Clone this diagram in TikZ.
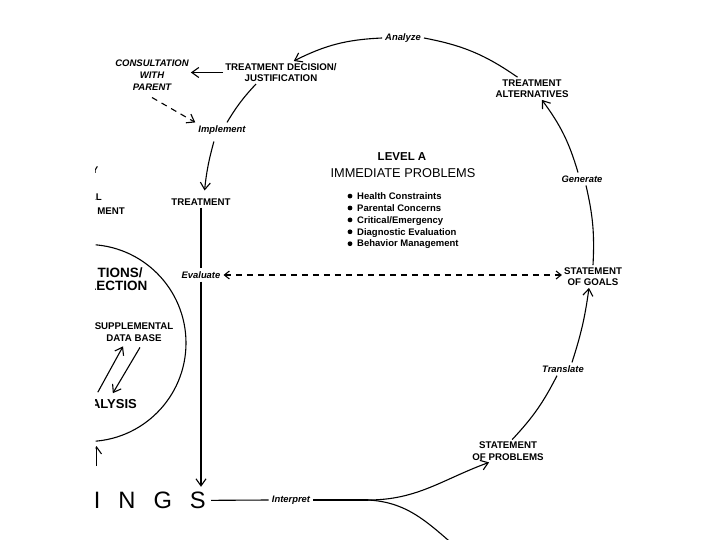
\documentclass[tikz,border=0pt]{standalone}
\usepackage{fontspec}
\setmainfont{Liberation Sans}
\usetikzlibrary{arrows.meta}

\begin{document}
\begin{tikzpicture}[x=1pt,y=1pt,
  stage/.style={font=\fontsize{9.7}{11.5}\selectfont\bfseries,align=center,inner sep=2pt},
  act/.style={font=\fontsize{9.4}{11}\selectfont\bfseries\itshape,inner sep=3pt},
  heading/.style={font=\fontsize{13.5}{16}\selectfont,inner sep=1pt},
  issue/.style={font=\fontsize{9.5}{11}\selectfont\bfseries,inner sep=0pt},
  flow/.style={line width=1.1pt},
  barbed/.style={-{Straight Barb[length=7pt,width=10pt]}},
  linkdash/.style={dash pattern=on 6pt off 5pt}]
\useasboundingbox (0,0) rectangle (720,-540);
\begin{scope}
\clip (95.5,0) rectangle (720,-540);

% cut-off circle at the left
\draw[flow] (87.5,-343) circle (98.5);
\draw[flow,barbed] (96.5,-466) -- (96.5,-446);

\node[stage,anchor=east] (frY) at (100.5,-170) {Y};
\node[stage,anchor=east] (frAL) at (104,-197) {AL};
\node[stage,anchor=east] (frMENT) at (127,-211) {MENT};
\node[heading,font=\fontsize{13.5}{16}\selectfont\bfseries,anchor=west] (frTIONS) at (96.5,-273) {TIONS/};
\node[heading,font=\fontsize{13.5}{16}\selectfont\bfseries,anchor=east] (frLECTION) at (148.5,-286) {LECTION};
\node[stage] (suppl) at (134,-332) {SUPPLEMENTAL\\DATA BASE};
\node[heading,font=\fontsize{13}{16}\selectfont\bfseries,anchor=east] (alysis) at (138,-404) {ALYSIS};

\draw[flow,barbed] ([xshift=8pt,yshift=6pt]alysis.north west) -- ([xshift=-11pt,yshift=-3pt]suppl.south);
\draw[flow,barbed] ([xshift=6pt,yshift=-4pt]suppl.south) -- ([xshift=23pt,yshift=5pt]alysis.north west);

% level A
\node[font=\fontsize{11.5}{13}\selectfont\bfseries] (levela) at (402,-157) {LEVEL A};
\node[heading,font=\fontsize{12.8}{15}\selectfont] (immediate) at (403,-173) {IMMEDIATE PROBLEMS};
\foreach \txt [count=\k from 0] in {Health Constraints,Parental Concerns,Critical/Emergency,Diagnostic Evaluation,Behavior Management}{
  \node[issue,anchor=base west] (issue\k) at (357,-199.4-11.9*\k) {\txt};
  \fill ([xshift=-7pt,yshift=3.3pt]issue\k.base west) circle (2.4);
}

% the cycle
\node[act] (analyze) at (403,-38) {Analyze};
\node[stage] (decision) at (281,-72.5) {TREATMENT DECISION/\\JUSTIFICATION};
\node[stage,font=\fontsize{9.5}{12}\selectfont\bfseries\itshape] (consult) at (152,-75) {CONSULTATION\\WITH\\PARENT};
\node[act] (implement) at (222,-130) {Implement};
\node[stage] (treatment) at (201,-202) {TREATMENT};
\node[act] (evaluate) at (201,-275) {Evaluate};
\node[font=\fontsize{23.7}{26}\selectfont,inner sep=5pt,anchor=base east] (ings) at (211,-508.5) {I\hspace{18pt}N\hspace{18pt}G\hspace{18pt}S};
\node[act] (interpret) at (291,-500) {Interpret};
\coordinate (split) at (368,-500);
\coordinate (below) at (462,-552);
\node[stage] (problems) at (508,-451) {STATEMENT\\OF PROBLEMS};
\node[act] (translate) at (563,-369) {Translate};
\node[stage] (goals) at (593,-276.5) {STATEMENT\\OF GOALS};
\node[act] (generate) at (582,-179) {Generate};
\node[stage] (alternatives) at (532,-88.5) {TREATMENT\\ALTERNATIVES};

\draw[flow,barbed] (analyze.west) to[bend right=12] (decision.42);
\draw[flow] (analyze.east) to[bend left=12] (alternatives.142);
\draw[flow,barbed] (decision.west) -- (decision.west -| consult.east);
\draw[flow,linkdash,barbed] ([yshift=-5pt]consult.south) -- (implement.north west);
\draw[flow] ([xshift=-25pt]decision.south) to[bend right=6] ([xshift=5pt]implement.north);
\draw[flow,barbed,shorten <=4pt,shorten >=6pt] ([xshift=-7pt]implement.south) to[bend right=5] ([xshift=3pt]treatment.north);
\draw[flow] (treatment) -- (evaluate);
\draw[flow,barbed] (evaluate.south) -- (evaluate.south |- ings.north);
\draw[flow] (ings.east) -- (interpret.west);
\draw[flow] (interpret.east) -- (split);
\draw[flow,barbed] (split) to[out=0,in=200] (problems.211);
\draw[flow] (split) to[out=-3,in=140] (below);
\draw[flow] (problems.70) to[bend right=8] ([xshift=-6pt]translate.south);
\draw[flow,barbed] ([xshift=9pt]translate.north) to[bend right=5] ([xshift=-4pt]goals.south);
\draw[flow] (goals.north) to[bend right=8] ([xshift=4pt]generate.south);
\draw[flow,barbed] ([xshift=-4pt]generate.north) to[bend right=10] (alternatives.-49);
\draw[flow,linkdash,{Straight Barb[length=5pt,width=8pt]}-{Straight Barb[length=5pt,width=8pt]}] (evaluate.east) -- (evaluate.east -| goals.west);
\end{scope}
\end{tikzpicture}
\end{document}
